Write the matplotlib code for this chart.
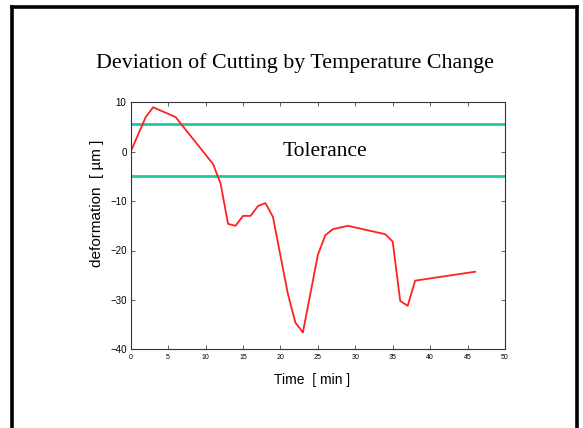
import matplotlib
matplotlib.use("Agg")
import matplotlib.pyplot as plt
from matplotlib.lines import Line2D

# Deformation measured during cutting
time_min = [0, 2, 3, 6, 11, 12, 13, 14, 15, 16, 17, 18, 19, 21, 22, 23,
             25, 26, 27, 29, 34, 35, 36, 37, 38, 46]
deformation_um = [0, 7.0, 9.0, 7.0, -2.5, -6.4, -14.6, -15.0, -13.0, -13.0,
                  -11.0, -10.4, -13.2, -28.8, -34.6, -36.6, -20.9, -16.9,
                  -15.7, -15.0, -16.7, -18.2, -30.2, -31.2, -26.1, -24.3]

# Tolerance band limits
tol_upper = 5.6
tol_lower = -5.0

x_ticks = [0, 5, 10, 15, 20, 25, 30, 35, 40, 45, 50]
y_ticks = [-40, -30, -20, -10, 0, 10]

W, H = 583, 428
fig = plt.figure(figsize=(W / 100, H / 100), dpi=100)

# Slide frame (open at the bottom)
frame_kw = dict(color="black", linewidth=2.6, transform=fig.transFigure,
                solid_capstyle="projecting")
fig.add_artist(Line2D([11.5 / W, 11.5 / W], [0, 1 - 6.5 / H], **frame_kw))
fig.add_artist(Line2D([577 / W, 577 / W], [0, 1 - 6.5 / H], **frame_kw))
fig.add_artist(Line2D([11.5 / W, 577 / W], [1 - 6.5 / H, 1 - 6.5 / H], **frame_kw))

fig.text(295 / W, 1 - 63 / H, "Deviation of Cutting by Temperature Change",
         family="Liberation Serif", fontsize=15.8, ha="center", va="center")

ax = fig.add_axes([130.7 / W, 1 - 349.3 / H, (505 - 130.7) / W, (349.3 - 102.3) / H])

ax.axhline(tol_upper, color="#1fc9a0", linewidth=2)
ax.axhline(tol_lower, color="#1fc9a0", linewidth=2)
ax.plot(time_min, deformation_um, color="#ff2020", linewidth=1.3)

ax.text(26, 0, "Tolerance", family="Liberation Serif",
        fontsize=15.5, ha="center", va="center")

ax.set_xlim(0, 50)
ax.set_ylim(-40, 10)
ax.set_xticks(x_ticks)
ax.set_yticks(y_ticks)
ax.set_yticklabels(["\u221240", "\u221230", "\u221220", "\u221210", "0", "10"])
ax.tick_params(direction="in", top=True, right=True, length=3, width=0.6,
               color="#444444")
ax.tick_params(axis="x", labelsize=5, pad=3.5)
ax.tick_params(axis="y", labelsize=7, pad=3)
for lab in ax.get_xticklabels() + ax.get_yticklabels():
    lab.set_family("Liberation Sans")
for s in ax.spines.values():
    s.set_linewidth(0.8)
    s.set_color("#333333")

ax.set_xlabel("Time  [ min ]", family="Liberation Sans", fontsize=10)
ax.xaxis.set_label_coords(0.485, -0.097)
ax.set_ylabel("deformation  [ \u00b5m ]", family="Liberation Sans", fontsize=11)
ax.yaxis.set_label_coords(-0.072, 0.592)

fig.savefig("out.png", dpi=100)
